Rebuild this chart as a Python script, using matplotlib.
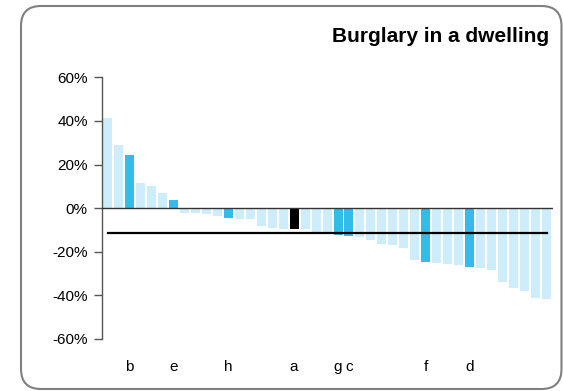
import matplotlib
matplotlib.use("Agg")
import matplotlib.pyplot as plt
from matplotlib.patches import FancyBboxPatch
from matplotlib.ticker import FuncFormatter

plt.rcParams['font.family'] = ['Liberation Sans', 'DejaVu Sans']

title = "Burglary in a dwelling"
values = [41.3, 28.8, 24.3, 11.4, 10.1, 6.9, 3.7,
          -2.3, -2.3, -2.7, -3.7, -4.6, -5.0, -5.0, -8.1, -9.0, -9.5,
          -9.6, -9.5, -11.0, -11.3, -12.2, -12.7, -13.1, -14.5, -16.3, -16.8,
          -18.2, -23.7, -24.6, -25.0, -25.5, -25.9, -26.9, -27.3, -28.2, -33.7,
          -36.5, -37.8, -41.0, -41.5]
labels = ['', '', 'b', '', '', '', 'e',
          '', '', '', '', 'h', '', '', '', '', '',
          'a', '', '', '', 'g', 'c', '', '', '', '',
          '', '', 'f', '', '', '', 'd', '', '', '',
          '', '', '', '']
average = -11.3
yticks = [-60, -40, -20, 0, 20, 40, 60]

LIGHT = '#CCEDF9'
DARK = '#33BBEA'
colors = ['black' if l == 'a' else (DARK if l else LIGHT) for l in labels]

W, H = 563, 391
fig = plt.figure(figsize=(W / 100, H / 100), dpi=100)
left, right = 101.7 / W, 552.7 / W
top, bottom = 1 - 77.3 / H, 1 - 339.0 / H
ax = fig.add_axes([left, bottom, right - left, top - bottom])

x = list(range(len(values)))
ax.bar(x, values, width=0.82, color=colors, zorder=2)
ax.axhline(0, color='#333333', lw=1.0, zorder=3)
ax.plot([x[0], x[-1]], [average, average], color='black', lw=1.6, zorder=4)

ax.set_xlim(-0.53, 40.56)
ax.set_ylim(-60, 60)
ax.set_yticks(yticks)
ax.yaxis.set_major_formatter(FuncFormatter(lambda v, p: f"{int(v)}%"))
ax.set_xticks(x)
ax.set_xticklabels(labels)
ax.tick_params(axis='x', length=0, pad=15, labelsize=11)
ax.tick_params(axis='y', length=6, width=1, color='#555555', labelsize=11, pad=4)
for s in ['top', 'right', 'bottom']:
    ax.spines[s].set_visible(False)
ax.spines['left'].set_color('#555555')
ax.spines['left'].set_linewidth(1)
ax.set_facecolor('none')

fig.text(549 / W, 1 - 36.5 / H, title, ha='right', va='center',
         fontsize=15, fontweight='bold')

border = FancyBboxPatch((21 / 100, 2 / 100), 540.5 / 100, 383 / 100,
                        boxstyle="round,pad=0,rounding_size=0.2",
                        transform=fig.dpi_scale_trans, fill=False,
                        ec='#808080', lw=1.5)
fig.add_artist(border)

fig.savefig('out.png', dpi=100)
